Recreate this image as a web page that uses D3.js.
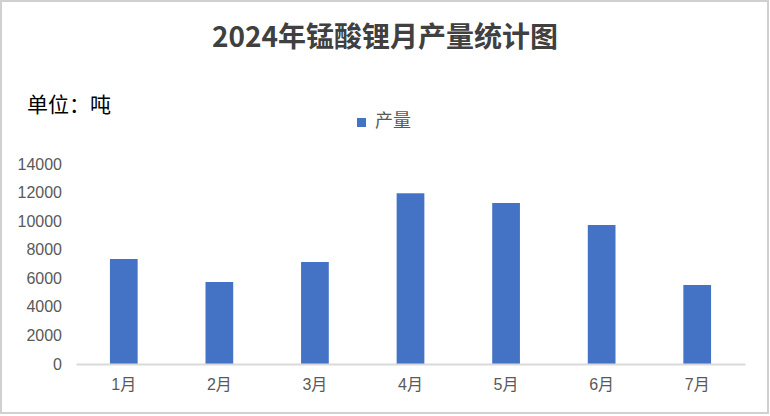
<!DOCTYPE html>
<html><head><meta charset="utf-8">
<script src="https://cdn.jsdelivr.net/npm/d3@7/dist/d3.min.js"></script>
<style>
html,body{margin:0;padding:0;background:#fff;}
svg{display:block;}
</style></head>
<body>
<script>
const categories = ["1月","2月","3月","4月","5月","6月","7月"];
const production = [7350, 5740, 7140, 11950, 11270, 9730, 5530];
const yTicks = [0,2000,4000,6000,8000,10000,12000,14000];
const seriesName = "产量";
const titleText = "2024年锰酸锂月产量统计图";
const unitText = "单位：吨";

const W = 770, H = 416;
const svg = d3.select("body").append("svg").attr("width", W).attr("height", H);
svg.append("rect").attr("x",1).attr("y",1).attr("width",W-3).attr("height",H-4)
  .attr("fill","#fff").attr("stroke","#d0d0d0").attr("stroke-width",2);

const x = d3.scaleBand().domain(categories).range([76,745]).paddingInner(0.71).paddingOuter(0.355);
const y = d3.scaleLinear().domain([0,14000]).range([364,164]);

const fontNum = "'Liberation Sans','Noto Sans CJK SC',sans-serif";
const fontCJK = "'Noto Sans CJK SC',sans-serif";

svg.append("text").attr("x",385).attr("y",47).attr("text-anchor","middle")
  .attr("font-family",fontCJK).attr("font-weight","bold")
  .attr("font-size",28).attr("fill","#404040").text(titleText);

svg.append("text").attr("x",27).attr("y",112)
  .attr("font-family",fontCJK)
  .attr("font-size",21).attr("fill","#000").text(unitText);

// legend
svg.append("rect").attr("x",357).attr("y",118).attr("width",9).attr("height",9).attr("fill","#4472C4");
svg.append("text").attr("x",375).attr("y",127)
  .attr("font-family",fontCJK)
  .attr("font-size",18).attr("fill","#595959").text(seriesName);

// bars
svg.append("g").selectAll("rect").data(production).join("rect")
  .attr("x",(d,i)=>x(categories[i])).attr("width",x.bandwidth())
  .attr("y",d=>y(d)).attr("height",d=>y(0)-y(d)).attr("fill","#4472C4");

// y axis
const ya = svg.append("g").attr("transform","translate(62,0)")
  .call(d3.axisLeft(y).tickValues(yTicks).tickSize(0).tickPadding(0).tickFormat(d3.format("d")));
ya.select(".domain").remove();
ya.selectAll("text").attr("font-family",fontNum).attr("font-size",16).attr("fill","#595959");

// x axis
const xa = svg.append("g").attr("transform","translate(0,364)")
  .call(d3.axisBottom(x).tickSize(0).tickPadding(15));
xa.select(".domain").attr("stroke","#d9d9d9").attr("stroke-width",2);
xa.selectAll("text").attr("font-family",fontNum).attr("font-size",16).attr("fill","#595959");
</script>
</body></html>
